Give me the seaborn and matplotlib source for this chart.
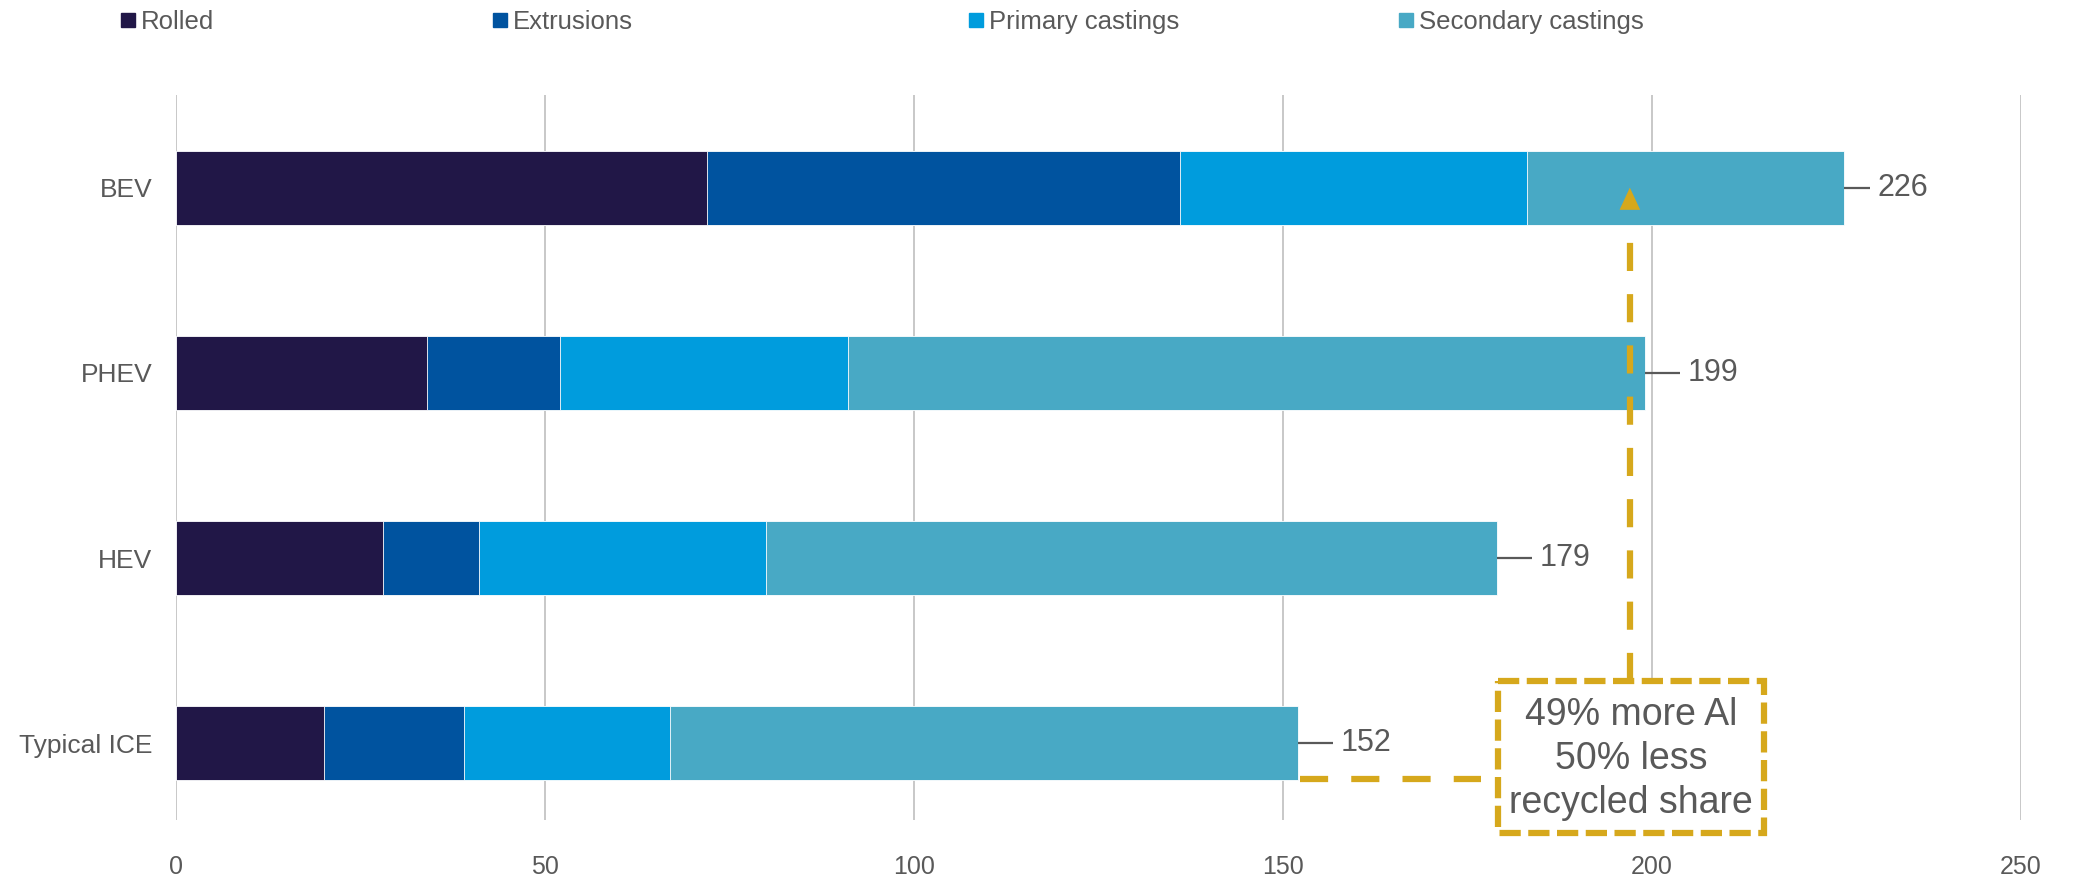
import matplotlib
matplotlib.use("Agg")
import matplotlib.pyplot as plt
from matplotlib.lines import Line2D
from matplotlib.patches import Rectangle, Polygon
import numpy as np
import pandas as pd
import seaborn as sns

# Aluminium content per vehicle type (kg), by product form
vehicles = ["BEV", "PHEV", "HEV", "Typical ICE"]
rolled = [72, 34, 28, 20]
extrusions = [64, 18, 13, 19]
primary_castings = [47, 39, 39, 28]
secondary_castings = [43, 108, 99, 85]
totals = [226, 199, 179, 152]

series_names = ["Rolled", "Extrusions", "Primary castings", "Secondary castings"]
series_colors = ["#211747", "#00539F", "#009CDD", "#48A9C5"]
x_ticks = [0, 50, 100, 150, 200, 250]

annotation_text = "49% more Al\n50% less\nrecycled share"

GREY = "#595959"
GOLD = "#D6A81C"

sns.set_theme(style="white")
plt.rcParams["font.family"] = ["Liberation Sans", "DejaVu Sans"]

df = pd.DataFrame({
    "vehicle": vehicles,
    "Rolled": rolled,
    "Extrusions": extrusions,
    "Primary castings": primary_castings,
    "Secondary castings": secondary_castings,
})
# cumulative ends of each stacked segment
cum = df[series_names].cumsum(axis=1)
cum["vehicle"] = vehicles

fig = plt.figure(figsize=(20.74, 8.84), dpi=100)
ax = fig.add_axes([176 / 2074, 1 - 820 / 884, (2021 - 176) / 2074, (820 - 95) / 884])

# draw from the outermost cumulative segment inwards so each layer overlaps the next
for name, color in reversed(list(zip(series_names, series_colors))):
    sns.barplot(data=cum, x=name, y="vehicle", order=vehicles,
                color=color, width=0.4, orient="h", ax=ax,
                edgecolor="white", linewidth=0.6, saturation=1, zorder=2)

ax.set_xlim(0, 250)
ax.set_ylim(3.414, -0.5)
ax.set_xticks(x_ticks)
ax.set_xticklabels([str(t) for t in x_ticks])
ax.set_xlabel("")
ax.set_ylabel("")
ax.grid(axis="x", color="#BFBFBF", linewidth=1.2, zorder=0)
ax.grid(axis="y", visible=False)
ax.set_axisbelow(True)
for s in ax.spines.values():
    s.set_visible(False)
ax.tick_params(axis="x", length=0, pad=25, labelsize=18, labelcolor=GREY)
ax.tick_params(axis="y", length=0, pad=17, labelsize=19, labelcolor=GREY)

# total labels with short leader lines
for i, tot in enumerate(totals):
    lead = 3.6 if i == 0 else 4.8
    ax.plot([tot, tot + lead], [i, i], color=GREY, lw=1.6, zorder=3, solid_capstyle="butt")
    ax.text(tot + lead + 1.0, i, str(tot), ha="left", va="center", fontsize=22, color=GREY)

# comparison callout
box_x0, box_x1 = 179.2, 215.2
box_y0, box_y1 = 2.664, 3.486
box = Rectangle((box_x0, box_y0), box_x1 - box_x0, box_y1 - box_y0, fill=True,
                facecolor="white", edgecolor=GOLD, lw=4.5, linestyle=(0, (3.4, 1.2)),
                clip_on=False, zorder=4)
ax.add_patch(box)
ax.text((box_x0 + box_x1) / 2, (box_y0 + box_y1) / 2 + 0.01, annotation_text,
        ha="center", va="center", fontsize=27, color=GREY, linespacing=1.3, zorder=5)

dash = (0, (4.5, 3.7))
ax.plot([totals[3] + 0.3, 176.8], [3.19, 3.19], color=GOLD, lw=4.5,
        linestyle=dash, clip_on=False, zorder=4)
ax.plot([197, 197], [box_y0, 0.2], color=GOLD, lw=4.5, linestyle=dash, zorder=4)
ax.add_patch(Polygon([[195.6, 0.12], [198.4, 0.12], [197, 0.0]], closed=True,
                     facecolor=GOLD, edgecolor="none", zorder=4))

# legend row
legend_x = [128, 500, 976, 1406]
for name, color, xp in zip(series_names, series_colors, legend_x):
    h = Line2D([], [], marker="s", linestyle="none", markersize=10, color=color)
    fig.legend(handles=[h], labels=[name], loc="center left",
               bbox_to_anchor=((xp - 10) / 2074, 1 - 22 / 884), frameon=False,
               borderpad=0, borderaxespad=0, handlelength=0.8, handletextpad=0.1,
               fontsize=18.5, labelcolor=GREY)

fig.savefig("out.png", dpi=100)
